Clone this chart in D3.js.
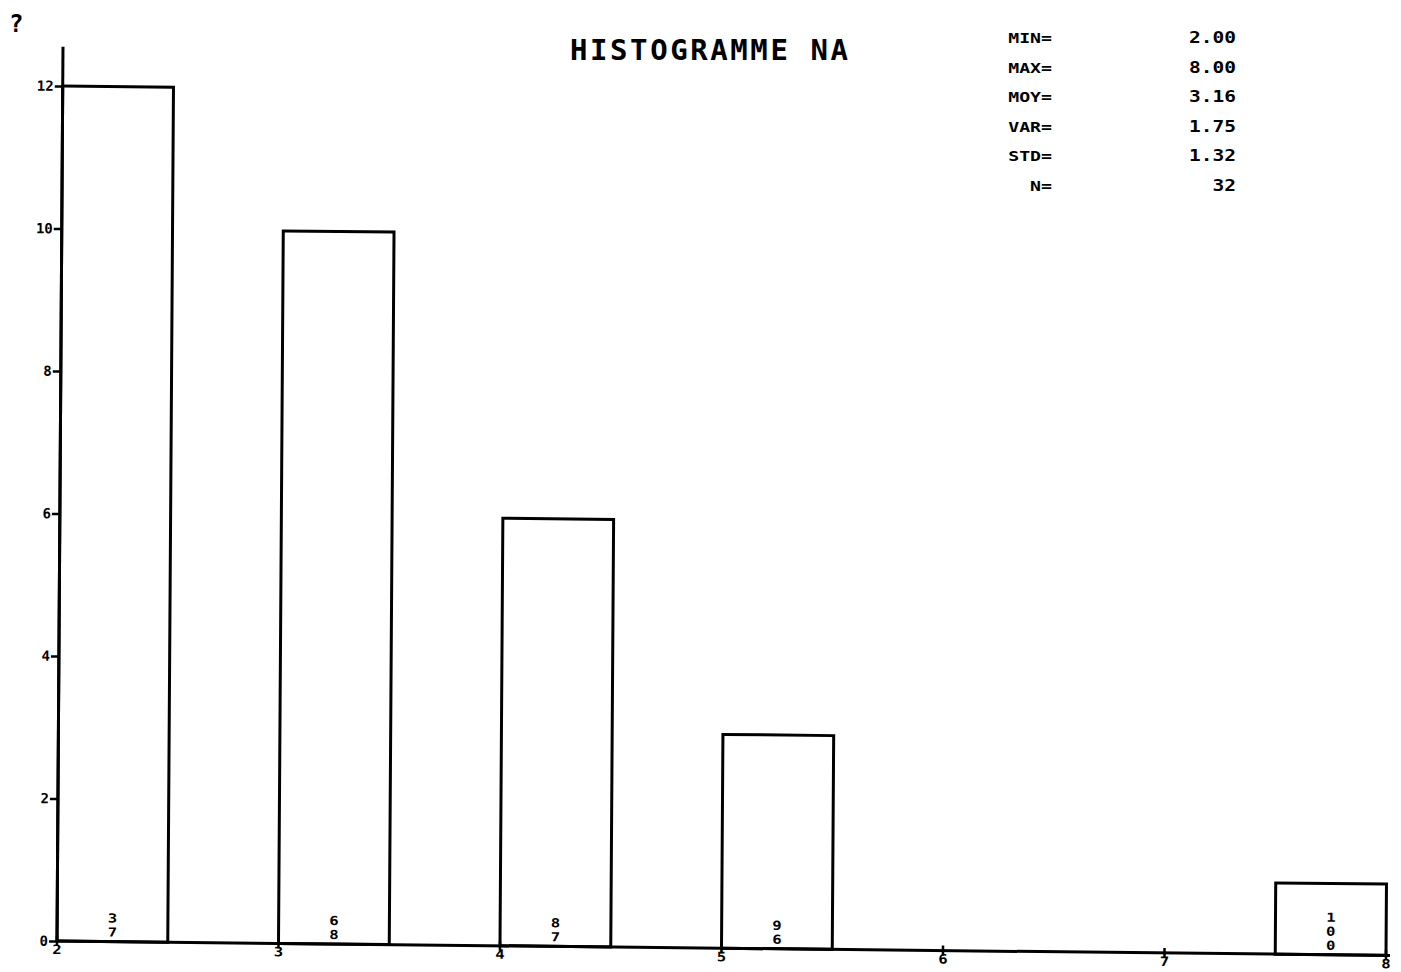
<!DOCTYPE html>
<html>
<head>
<meta charset="utf-8">
<title>Histogramme NA</title>
<script src="https://d3js.org/d3.v7.min.js"></script>
<style>
  body { margin: 0; background: #fff; }
  svg text { font-family: "DejaVu Sans Mono", monospace; font-weight: bold; fill: #000; }
</style>
</head>
<body>
<script>
// data
var classes = [2, 3, 4, 5, 8];
var counts = [12, 10, 6, 3, 1];
var binLo = [2, 3, 4, 5, 7.5];
var binHi = [2.5, 3.5, 4.5, 5.5, 8];
var cumPct = ['37', '68', '87', '96', '100'];
var xTicks = [2, 3, 4, 5, 6, 7, 8];
var yTicks = [0, 2, 4, 6, 8, 10, 12];
var statLabels = ['MIN=', 'MAX=', 'MOY=', 'VAR=', 'STD=', 'N='];
var statValues = ['2.00', '8.00', '3.16', '1.75', '1.32', '32'];

var width = 1401, height = 972;
var ox = 57, oy = 941;   // plot origin
var yTop = 12.55;        // y axis runs a bit above the last tick

var x = d3.scaleLinear().domain([2, 8]).range([ox, 1386]);
var y = d3.scaleLinear().domain([0, 12]).range([oy, 86]);

var svg = d3.select('body').append('svg')
	.attr('width', width)
	.attr('height', height);

// the plotter sheet is slightly skewed, keep that
var g = svg.append('g')
	.attr('transform', 'translate(' + ox + ',' + oy + ') matrix(1,0.0108,-0.0067,1,0,0) translate(' + (-ox) + ',' + (-oy) + ')');

// bars
g.selectAll('.bar')
	.data(classes)
	.enter()
	.append('rect')
	.attr('class', 'bar')
	.attr('x', function(d, i) { return x(binLo[i]); })
	.attr('y', function(d, i) { return y(counts[i]); })
	.attr('width', function(d, i) { return x(binHi[i]) - x(binLo[i]); })
	.attr('height', function(d, i) { return y(0) - y(counts[i]); })
	.attr('fill', 'none')
	.attr('stroke', '#000')
	.attr('stroke-width', 3);

// cumulative percentages, written vertically digit by digit
classes.forEach(function(c, i) {
	var cx = (x(binLo[i]) + x(binHi[i])) / 2;
	var digits = cumPct[i].split('');
	var n = digits.length;
	digits.forEach(function(ch, k) {
		g.append('text')
			.attr('transform', 'translate(' + cx + ',' + (oy - 5 - (n - 1 - k) * 14) + ') scale(1.25,1)')
			.attr('text-anchor', 'middle')
			.attr('font-size', 12.5)
			.text(ch);
	});
});

// y axis
g.append('line')
	.attr('x1', ox).attr('x2', ox)
	.attr('y1', y(0)).attr('y2', y(yTop))
	.attr('stroke', '#000').attr('stroke-width', 3);

var yAxis = d3.axisLeft(y)
	.tickValues(yTicks)
	.tickSize(8)
	.tickSizeOuter(0)
	.tickPadding(1)
	.tickFormat(d3.format('d'));
var ya = g.append('g')
	.attr('transform', 'translate(' + ox + ',0)')
	.call(yAxis);
ya.select('.domain').remove();
ya.selectAll('.tick line').attr('stroke', '#000').attr('stroke-width', 2.5);
ya.selectAll('.tick text')
	.attr('font-size', 14)
	.attr('font-family', null);

// x axis
g.append('line')
	.attr('x1', x(2)).attr('x2', x(8) + 4)
	.attr('y1', oy).attr('y2', oy)
	.attr('stroke', '#000').attr('stroke-width', 3);

var xt = g.selectAll('.xtick')
	.data(xTicks)
	.enter()
	.append('g')
	.attr('class', 'xtick')
	.attr('transform', function(d) { return 'translate(' + x(d) + ',' + oy + ')'; });
xt.append('line')
	.attr('y1', -5).attr('y2', 5)
	.attr('stroke', '#000').attr('stroke-width', 2.5);
xt.append('text')
	.attr('transform', 'translate(0,13) scale(1.2,1)')
	.attr('text-anchor', 'middle')
	.attr('font-size', 13)
	.text(function(d) { return d; });

// title
svg.append('text')
	.attr('x', 570)
	.attr('y', 60)
	.attr('font-size', 29)
	.attr('textLength', 278)
	.attr('lengthAdjust', 'spacing')
	.text('HISTOGRAMME NA');

// statistics block, plotter letters are wide
statLabels.forEach(function(lab, i) {
	var by = 43 + i * 29.5;
	svg.append('text')
		.attr('transform', 'translate(1052,' + by + ') scale(1.3,1)')
		.attr('text-anchor', 'end')
		.attr('font-size', 14)
		.text(lab);
	svg.append('text')
		.attr('transform', 'translate(1236,' + by + ') scale(1.3,1)')
		.attr('text-anchor', 'end')
		.attr('font-size', 15)
		.text(statValues[i]);
});

// page mark top left
svg.append('text')
	.attr('x', 9)
	.attr('y', 32)
	.attr('font-size', 24)
	.text('?');
</script>
</body>
</html>
